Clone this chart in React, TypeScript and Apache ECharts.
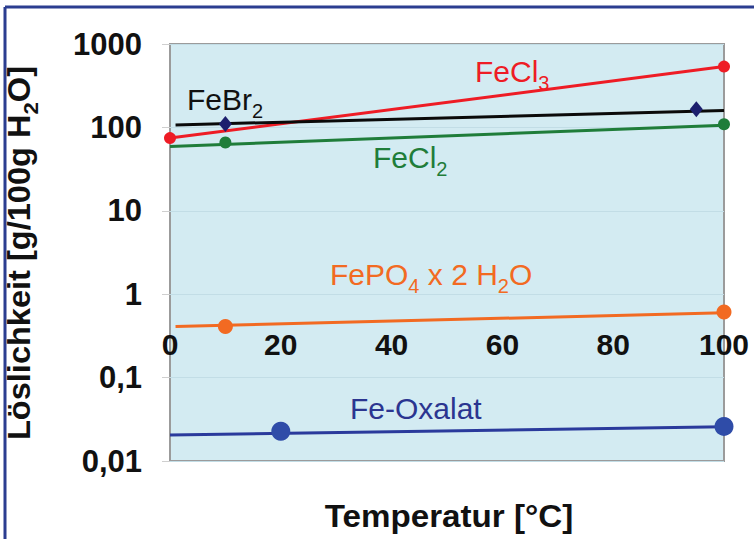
import React, { useEffect, useRef } from "react";
import * as echarts from "echarts";

// ---- data ----
const xTicks = [0, 20, 40, 60, 80, 100];
const yTickLabels = ["0,01", "0,1", "1", "10", "100", "1000"];

const feCl3Points: [number, number][] = [[0, 74.4], [100, 535.7]];
const feBr2Points: [number, number][] = [[10, 110], [95, 165]];
const feBr2Trend: [number, number][] = [[1, 107], [100, 159]];
const feCl2Points: [number, number][] = [[10, 66], [100, 109]];
const feCl2Trend: [number, number][] = [[0, 59], [100, 106]];
const fePO4Points: [number, number][] = [[10, 0.41], [100, 0.61]];
const fePO4Trend: [number, number][] = [[1, 0.41], [100, 0.6]];
const oxalatPoints: [number, number][] = [[20, 0.0227], [100, 0.026]];
const oxalatTrend: [number, number][] = [[0, 0.0205], [100, 0.0258]];

const FONT = "Arial, 'Liberation Sans', Helvetica, sans-serif";

type Part = { t: string; sub?: boolean };

let ctx: CanvasRenderingContext2D | null = null;
function measure(text: string, font: string) {
  if (!ctx) ctx = document.createElement("canvas").getContext("2d");
  ctx!.font = font;
  return ctx!.measureText(text).width;
}

// builds children of a label with subscripts; x = left, y = baseline
function partsChildren(parts: Part[], size: number, subSize: number, subDrop: number, color: string, weight: string) {
  const children: any[] = [];
  let cx = 0;
  for (const p of parts) {
    const fs = p.sub ? subSize : size;
    const font = `${weight} ${fs}px ${FONT}`;
    const w = measure(p.t, font);
    const base = p.sub ? subDrop : 0;
    children.push({
      type: "text",
      x: cx,
      y: base - 0.3465 * fs,
      style: {
        text: p.t,
        fontSize: fs,
        fontWeight: weight,
        fontFamily: FONT,
        fill: color,
        align: "left",
        verticalAlign: "middle",
      },
    });
    cx += w;
  }
  return { children, width: cx };
}

function label(parts: Part[], x: number, baseline: number, color: string, size = 30, weight = "normal") {
  const { children } = partsChildren(parts, size, 20, 8, color, weight);
  return { type: "group", x, y: baseline, children, z: 100 };
}

export default function App() {
  const ref = useRef<HTMLDivElement>(null);
  useEffect(() => {
    if (!ref.current) return;
    const chart = echarts.init(ref.current, null, { renderer: "svg" });

    const yTitle = partsChildren(
      [{ t: "Löslichkeit [g/100g H" }, { t: "2", sub: true }, { t: "O]" }],
      31, 21, 8, "#111", "bold"
    );
    yTitle.children.forEach((c: any) => (c.x -= yTitle.width / 2));

    const lineSeries = (name: string, data: [number, number][], color: string, z = 2) => ({
      name, type: "line", data, symbol: "none", clip: false, z,
      lineStyle: { color, width: 3 },
    });
    const markSeries = (name: string, data: [number, number][], color: string, symbol: string, size: any) => ({
      name, type: "scatter", data, symbol, symbolSize: size, clip: false, z: 5,
      itemStyle: { color, opacity: 1 },
    });

    chart.setOption({
      animation: false,
      grid: {
        left: 170, top: 44, width: 554, height: 417,
        show: true, backgroundColor: "#d3ebf2", borderColor: "#9b9b9b", borderWidth: 2,
      },
      xAxis: {
        type: "value", min: 0, max: 100, interval: 20,
        axisLine: { show: false }, axisTick: { show: false }, splitLine: { show: false },
        axisLabel: {
          margin: -132, fontSize: 30, lineHeight: 30, fontWeight: "bold", color: "#111", fontFamily: FONT,
          formatter: (v: number) => (xTicks.includes(v) ? String(v) : ""),
        },
      },
      yAxis: {
        type: "log", logBase: 10, min: 0.01, max: 1000,
        axisLine: { show: false },
        axisTick: { show: true, length: 8, lineStyle: { color: "#cfcfcf" } },
        splitLine: { show: true, lineStyle: { color: "#c2dde6", width: 1 } },
        minorTick: { show: false },
        axisLabel: {
          margin: 28, fontSize: 31, fontWeight: "bold", color: "#111", fontFamily: FONT,
          formatter: (v: number) => {
            const e = Math.round(Math.log10(v)) + 2;
            return yTickLabels[e] ?? "";
          },
        },
      },
      series: [
        lineSeries("FeCl3", feCl3Points, "#ee1c25", 2),
        markSeries("FeCl3 points", feCl3Points, "#ee1c25", "circle", 12),
        lineSeries("FeBr2 trend", feBr2Trend, "#0a0a0a", 3),
        markSeries("FeBr2", feBr2Points, "#1c1f6e", "diamond", [13, 16]),
        lineSeries("FeCl2 trend", feCl2Trend, "#1f7d3a", 2),
        markSeries("FeCl2", feCl2Points, "#1f7d3a", "circle", 12),
        lineSeries("FePO4 trend", fePO4Trend, "#f26a22", 2),
        markSeries("FePO4", fePO4Points, "#f26a22", "circle", 15),
        lineSeries("Fe-Oxalat trend", oxalatTrend, "#2a3a9c", 2),
        markSeries("Fe-Oxalat", oxalatPoints, "#2f4ca8", "circle", 19),
      ],
      graphic: [
        { type: "line", shape: { x1: 5, y1: 7, x2: 5, y2: 539 }, style: { stroke: "#2b3d90", lineWidth: 3 } },
        { type: "line", shape: { x1: 5, y1: 7, x2: 754, y2: 7 }, style: { stroke: "#2b3d90", lineWidth: 3 } },
        label([{ t: "FeCl" }, { t: "3", sub: true }], 475, 82, "#ee1c25"),
        label([{ t: "FeBr" }, { t: "2", sub: true }], 187, 110, "#111"),
        label([{ t: "FeCl" }, { t: "2", sub: true }], 373, 168, "#1f7d3a"),
        label([{ t: "FePO" }, { t: "4", sub: true }, { t: " x 2 H" }, { t: "2", sub: true }, { t: "O" }], 330, 285, "#f26a22"),
        label([{ t: "Fe-Oxalat" }], 350, 419, "#2b3590"),
        { type: "group", x: 30, y: 253, rotation: Math.PI / 2, scaleX: 1.05, children: yTitle.children, z: 100 },
        {
          type: "group", x: 449, y: 527, scaleX: 1.07, z: 100,
          children: [{
            type: "text", x: 0, y: -0.3465 * 31,
            style: {
              text: "Temperatur [°C]", fontSize: 31, fontWeight: "bold", fontFamily: FONT,
              fill: "#111", align: "center", verticalAlign: "middle",
            },
          }],
        },
      ],
    });
    return () => chart.dispose();
  }, []);
  return <div ref={ref} style={{ position: "absolute", left: 0, top: 0, width: 754, height: 539, background: "#fff" }} />;
}
